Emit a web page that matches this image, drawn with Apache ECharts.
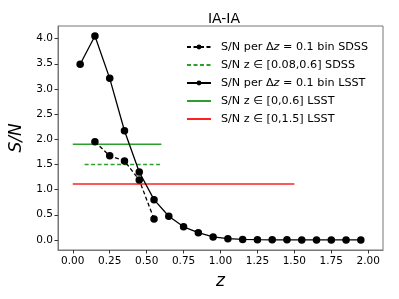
<!DOCTYPE html>
<html><head><meta charset="utf-8">
<script src="https://cdn.jsdelivr.net/npm/echarts@6/dist/echarts.min.js"></script>
<style>html,body{margin:0;padding:0;background:#fff}#c{width:399px;height:299px}</style>
</head><body><div id="c"></div>
<script>
var binZ = [0.05,0.15,0.25,0.35,0.45,0.55,0.65,0.75,0.85,0.95,1.05,1.15,1.25,1.35,1.45,1.55,1.65,1.75,1.85,1.95];
var lsstSN = [3.49,4.05,3.21,2.17,1.35,0.80,0.47,0.26,0.145,0.06,0.025,0.01,0.005,0.003,0.002,0.001,0.001,0.001,0.001,0.001];
var sdssZ = [0.15,0.25,0.35,0.45,0.55];
var sdssSN = [1.95,1.67,1.57,1.19,0.415];
var sdssTotRange = [0.08,0.6]; var sdssTot = 1.50;
var lsst06Range = [0,0.6]; var lsst06 = 1.90;
var lsst15Range = [0,1.5]; var lsst15 = 1.11;
var xTicks = [0,0.25,0.5,0.75,1.0,1.25,1.5,1.75,2.0];
var yTicks = [0,0.5,1.0,1.5,2.0,2.5,3.0,3.5,4.0];
var names = ['S/N per Δz = 0.1 bin SDSS','S/N z ∈ [0.08,0.6] SDSS','S/N per Δz = 0.1 bin LSST','S/N z ∈ [0,0.6] LSST','S/N z ∈ [0,1.5] LSST'];
var title = 'IA-IA';

function pairs(xs, ys){ return xs.map(function(x,i){return [x, ys[i]];}); }
function hline(r, v){ return [[r[0], v],[r[1], v]]; }

var font = 'DejaVu Sans';
var fs = 11.2;
var chart = echarts.init(document.getElementById('c'), null, {renderer:'canvas'});
chart.setOption({
  animation:false,
  backgroundColor:'#fff',
  textStyle:{fontFamily:font},
  title:{text:title, left:219, textAlign:'center', top:7, textStyle:{fontFamily:font, fontSize:14, fontWeight:'normal', color:'#000'}},
  grid:{left:55, right:16, top:26, bottom:49, show:true, borderColor:'#777', borderWidth:1, backgroundColor:'transparent'},
  legend:{
    orient:'vertical', left:181, top:35, itemWidth:24, itemHeight:6, itemGap:4,
    data:names.map(function(n,i){ return (i===1||i>=3) ? {name:n, itemStyle:{opacity:0}} : {name:n}; }),
    textStyle:{fontFamily:font, fontSize:fs, color:'#000', lineHeight:14,
      rich:{s:{width:5}, a:{fontFamily:font,fontSize:fs,color:'#000',lineHeight:14}, i:{fontFamily:font,fontSize:fs,fontStyle:'italic',color:'#000',lineHeight:14}}},
    formatter:function(n){
      if(n.indexOf('Δz')>=0){ var p=n.split('Δz'); return '{s|}{a|'+p[0]+'Δ}{i|z}{a|'+p[1]+'}'; }
      return '{s|}{a|'+n+'}';
    }
  },
  xAxis:{type:'value', min:-0.1, max:2.1,
    name:'z', nameLocation:'middle', nameGap:23, nameTextStyle:{fontFamily:font, fontSize:17, fontStyle:'italic', color:'#000'},
    axisLine:{show:true, onZero:false, lineStyle:{color:'#777'}},
    axisTick:{show:true, length:3.5, customValues:xTicks, lineStyle:{color:'#333'}},
    axisLabel:{customValues:xTicks, margin:6, fontSize:10.5, color:'#000', fontFamily:font, formatter:function(v){return v.toFixed(2);}},
    splitLine:{show:false}},
  yAxis:{type:'value', min:-0.2, max:4.25,
    name:'S/N', nameLocation:'middle', nameGap:33, nameTextStyle:{fontFamily:font, fontSize:17, fontStyle:'italic', color:'#000'},
    axisLine:{show:true, onZero:false, lineStyle:{color:'#777'}},
    axisTick:{show:true, length:3.5, customValues:yTicks, lineStyle:{color:'#333'}},
    axisLabel:{customValues:yTicks, margin:5, fontSize:10.5, color:'#000', fontFamily:font, formatter:function(v){return v.toFixed(1);}},
    splitLine:{show:false}},
  series:[
    {name:names[0], type:'line', data:pairs(sdssZ,sdssSN), symbol:'circle', symbolSize:7.5, itemStyle:{color:'#000'}, lineStyle:{color:'#000', width:1.3, type:[4,2.5]}, z:5},
    {name:names[1], type:'line', data:hline(sdssTotRange,sdssTot), symbol:'none', itemStyle:{color:'#2ca02c'}, lineStyle:{color:'#2ca02c', width:1.5, type:[4,2.5]}, z:3},
    {name:names[2], type:'line', data:pairs(binZ,lsstSN), symbol:'circle', symbolSize:7.5, itemStyle:{color:'#000'}, lineStyle:{color:'#000', width:1.3}, z:5},
    {name:names[3], type:'line', data:hline(lsst06Range,lsst06), symbol:'none', itemStyle:{color:'#2ca02c'}, lineStyle:{color:'#2ca02c', width:1.5}, z:3},
    {name:names[4], type:'line', data:hline(lsst15Range,lsst15), symbol:'none', itemStyle:{color:'#ff2020'}, lineStyle:{color:'#ff2020', width:1.5}, z:3}
  ]
});
</script></body></html>
